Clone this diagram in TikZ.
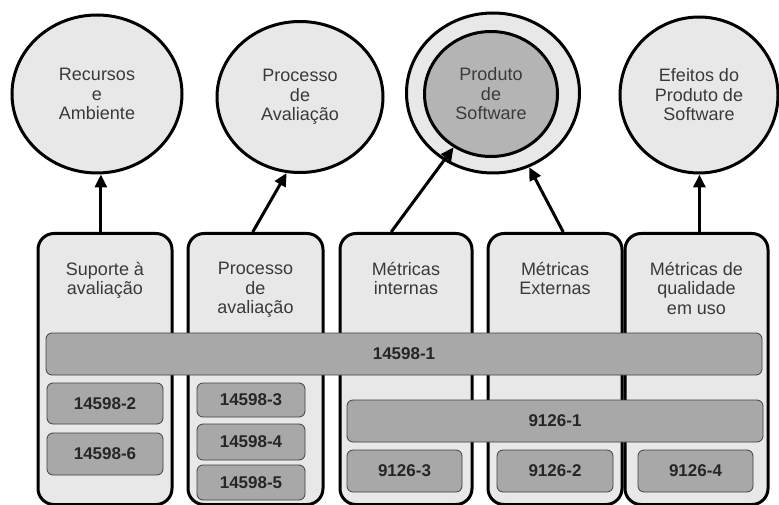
\documentclass[tikz,border=0pt]{standalone}
\usepackage{fontspec}
\setmainfont{Liberation Sans}
\usetikzlibrary{calc,shapes.geometric,arrows.meta}
\definecolor{lightgrey}{HTML}{E8E8E8}
\definecolor{midgrey}{HTML}{A8A8A8}
\definecolor{coregrey}{HTML}{B4B4B4}
\definecolor{textgrey}{HTML}{3A3A3A}

\begin{document}
\begin{tikzpicture}[x=1pt,y=-1pt,
                    target/.style={draw,line width=3pt,ellipse,inner sep=0pt,fill=lightgrey,align=center,
                                   text=textgrey,font=\fontsize{18}{19.5}\selectfont},
                    column/.style={draw,line width=3pt,rounded corners=16pt,fill=lightgrey,
                                   anchor=north,minimum height=271pt},
                    column header/.style={anchor=north,inner sep=0pt,align=center,text=textgrey,
                                          font=\fontsize{18}{19.5}\selectfont},
                    part/.style={draw=black!75,line width=0.8pt,rounded corners=6pt,fill=midgrey,
                                 text=black!85,font=\bfseries\fontsize{17}{19}\selectfont},
                    link/.style={line width=3pt,-{Triangle[length=13pt,width=12pt]}}]
    \useasboundingbox (0,0) rectangle (779,505);
    % columns
    \node[column,minimum width=134pt] (sup) at (105,232) {};
    \node[column,minimum width=135pt] (proc) at (255.5,232) {};
    \node[column,minimum width=132pt] (int) at (406,232) {};
    \node[column,minimum width=134pt] (ext) at (555,232) {};
    \node[column,minimum width=143pt] (uso) at (696.5,232) {};
    \node[column header] at ($ (sup.north) + (0,30) $) {Suporte à\\avaliação};
    \node[column header] at ($ (proc.north) + (0,30) $) {Processo\\de\\avaliação};
    \node[column header] at ($ (int.north) + (0,30) $) {Métricas\\internas};
    \node[column header] at ($ (ext.north) + (0,30) $) {Métricas\\Externas};
    \node[column header] at ($ (uso.north) + (0,30) $) {Métricas de\\qualidade\\em uso};
    % standard parts
    \node[part,minimum width=716pt,minimum height=42pt] (p1) at (404,354) {14598-1};
    \node[part,minimum width=116pt,minimum height=41pt] (p2) at (105,403.5) {14598-2};
    \node[part,minimum width=116pt,minimum height=42pt] (p6) at (105,454) {14598-6};
    \node[part,minimum width=108pt,minimum height=34pt] (p3) at (251,400) {14598-3};
    \node[part,minimum width=108pt,minimum height=36pt] (p4) at (251,442) {14598-4};
    \node[part,minimum width=108pt,minimum height=35pt] (p5) at (251,482.5) {14598-5};
    \node[part,minimum width=416pt,minimum height=42pt] (q1) at (555,421) {9126-1};
    \node[part,minimum width=115pt,minimum height=42pt] (q3) at (404.5,471) {9126-3};
    \node[part,minimum width=116pt,minimum height=42pt] (q2) at (555,471) {9126-2};
    \node[part,minimum width=115pt,minimum height=42pt] (q4) at (695.5,471) {9126-4};
    % targets
    \node[target,minimum width=170pt,minimum height=158pt] (rec) at (97,94) {Recursos\\e\\Ambiente};
    \node[target,minimum width=166pt,minimum height=151pt] (aval) at (300,97) {Processo\\de\\Avaliação};
    \node[target,minimum width=173pt,minimum height=160pt] (ring) at (493,93) {};
    \node[target,fill=coregrey,minimum width=133pt,minimum height=125pt] (prod) at (491,94) {Produto\\de\\Software};
    \node[target,minimum width=158pt,minimum height=156pt] (efe) at (699,95) {Efeitos do\\Produto de\\Software};
    % links
    \coordinate (from sup) at ($ (sup.north west) ! 0.47 ! (sup.north east) $);
    \coordinate (from proc) at ($ (proc.north west) ! 0.48 ! (proc.north east) $);
    \coordinate (from int) at ($ (int.north west) ! 0.39 ! (int.north east) $);
    \coordinate (from ext) at ($ (ext.north west) ! 0.56 ! (ext.north east) $);
    \coordinate (from uso) at ($ (uso.north west) ! 0.52 ! (uso.north east) $);
    \draw[link] (from sup) -- (from sup |- rec.south);
    \draw[link] (from proc) -- (aval.260);
    \draw[link] (from int) -- (prod.235);
    \draw[link] (from ext) -- (ring.296);
    \draw[link] (from uso) -- (from uso |- efe.south);
\end{tikzpicture}
\end{document}
